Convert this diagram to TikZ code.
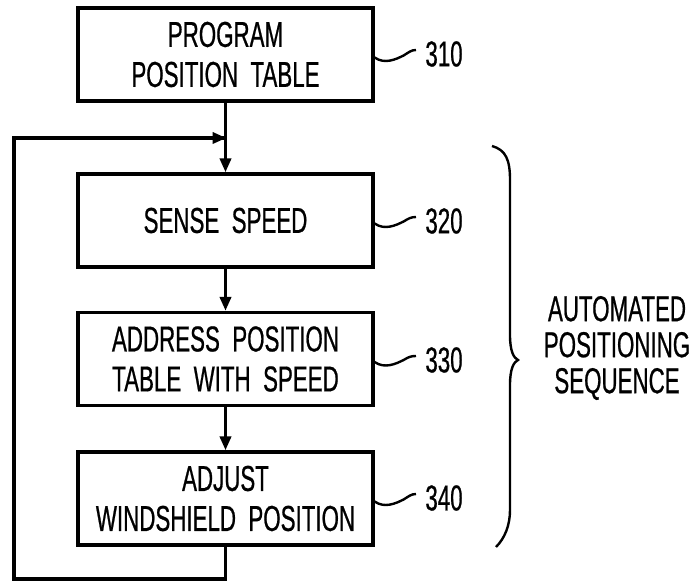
\documentclass[tikz,border=0pt]{standalone}
\usepackage{fontspec}
\setmainfont{Liberation Sans}[FakeStretch=0.62,FakeBold=0.6]
\usetikzlibrary{arrows.meta}

\tikzset{
  stage/.style={draw,line width=1.6pt,minimum width=147.5pt,minimum height=46.5pt,
    align=center,inner sep=0pt},
  flow/.style={line width=1.8pt,-{Triangle[length=7pt,width=5.5pt]}},
  wire/.style={line width=1.8pt},
  tag/.style={anchor=west,inner sep=0pt},
  squig/.style={line width=1.2pt}
}

\begin{document}
\begin{tikzpicture}[x=0.5pt,y=-0.5pt,font=\fontsize{18}{20}\selectfont]
\useasboundingbox (0,0) rectangle (691,582);
% boxes
\node[stage] (p310) at (225.5,54.5) {PROGRAM\\POSITION\ \ TABLE};
\node[stage] (p320) at (225.5,220.5) {SENSE\ \ SPEED};
\node[stage] (p330) at (225.5,359) {ADDRESS\ \ POSITION\\TABLE\ \ WITH\ \ SPEED};
\node[stage] (p340) at (225.5,498.5) {ADJUST\\WINDSHIELD\ \ POSITION};
% reference numbers
\node[tag] (n310) at (425,54) {310};
\node[tag] (n320) at (425,221) {320};
\node[tag] (n330) at (425,360) {330};
\node[tag] (n340) at (425,498) {340};
\foreach \k in {310,320,330,340}
  \draw[squig] (p\k.east) ++(0,3) coordinate (s\k)
    .. controls +(10,7) and +(-8,4) .. ++(29,-2)
    .. controls +(5,-3) and +(-5,0) .. ([xshift=-4.5pt,yshift=2pt]n\k.west);
% flow
\draw[flow] (p310) -- (p320);
\draw[flow] (p320) -- (p330);
\draw[flow] (p330) -- (p340);
\coordinate (lp1) at (225.5,579);
\coordinate (lp2) at (14,579);
\coordinate (lp3) at (14,138);
\coordinate (join) at (226.5,138);
\draw[wire] (p340.south) -- (lp1) -- (lp2) -- (lp3) -- (join);
\draw[flow] (lp3) -- (join);
% brace
\coordinate (bt) at (492,146);
\coordinate (bm) at (518,360);
\coordinate (bb) at (496,547);
\draw[line width=1.2pt] (bt) .. controls (506,150) and (510,160) .. (510,180)
  -- (510,335) .. controls (510,352) and (514,358) .. (bm)
  .. controls (514,362) and (510,368) .. (510,385)
  -- (510,510) .. controls (510,525) and (505,538) .. (bb);
\node[align=center,font=\fontsize{18}{18}\selectfont] (seq) at (617,348)
  {AUTOMATED\\POSITIONING\\SEQUENCE};
\end{tikzpicture}
\end{document}
